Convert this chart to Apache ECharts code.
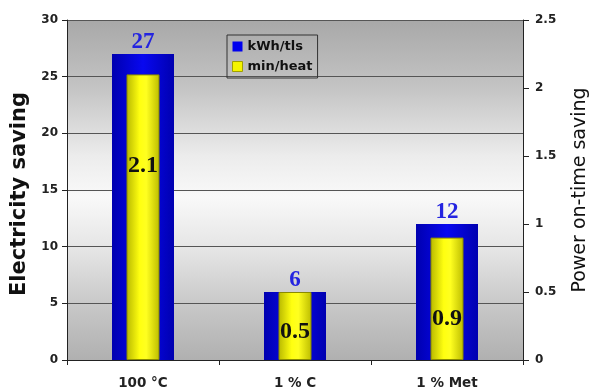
<!DOCTYPE html>
<html>
<head>
<meta charset="utf-8">
<script src="https://cdn.jsdelivr.net/npm/echarts@6/dist/echarts.min.js"></script>
<style>
  html, body { margin: 0; padding: 0; background: #ffffff; }
  #chart { width: 592px; height: 392px; }
</style>
</head>
<body>
<div id="chart"></div>
<script>
// Categories and values
const categories = ['100 °C', '1 % C', '1 % Met'];
const kwhPerTls = [27, 6, 12];        // Electricity saving (left axis)
const minPerHeat = [2.1, 0.5, 0.9];   // Power on-time saving (right axis)
const leftTicks = { min: 0, max: 30, interval: 5 };
const rightTicks = { min: 0, max: 2.5, interval: 0.5 };

// Vertical placement of the labels inside the yellow bars
const innerLabelPos = ['32%', '58%', '66%'];

const chart = echarts.init(document.getElementById('chart'), null, { renderer: 'canvas' });

const fontSans = 'DejaVu Sans, Verdana, sans-serif';
const fontSerif = 'Liberation Serif, Times New Roman, serif';

const option = {
  animation: false,
  backgroundColor: '#ffffff',
  grid: {
    left: 67, right: 69, top: 20, bottom: 32,
    outerBoundsMode: 'none',
    containLabel: false,
    show: true,
    borderWidth: 0,
    backgroundColor: {
      type: 'linear', x: 0, y: 0, x2: 0, y2: 1,
      colorStops: [
        { offset: 0, color: '#a8a8a8' },
        { offset: 0.2, color: '#c4c4c4' },
        { offset: 0.4, color: '#ececec' },
        { offset: 0.52, color: '#f9f9f9' },
        { offset: 0.68, color: '#e4e4e4' },
        { offset: 0.85, color: '#c6c6c6' },
        { offset: 1, color: '#b0b0b0' }
      ]
    }
  },
  legend: {
    left: 227, top: 35,
    orient: 'vertical',
    padding: [5, 5, 5, 5],
    itemGap: 7,
    itemWidth: 10, itemHeight: 10,
    borderColor: '#333333', borderWidth: 1,
    icon: 'rect',
    textStyle: { fontFamily: fontSans, fontWeight: 'bold', fontSize: 13, color: '#111111' },
    data: [
      { name: 'kWh/tls', itemStyle: { color: '#0000ee' } },
      { name: 'min/heat', itemStyle: { color: '#f4f400', borderColor: '#a0a000', borderWidth: 1 } }
    ]
  },
  xAxis: [
    {
      type: 'category', data: categories, gridIndex: 0,
      axisLine: { show: true, lineStyle: { color: '#222222', width: 1 } },
      axisTick: { show: true, length: 5, lineStyle: { color: '#222222' } },
      axisLabel: { fontFamily: fontSans, fontWeight: 'bold', fontSize: 13.5, color: '#222222', margin: 16 }
    },
    {
      type: 'category', data: categories, gridIndex: 0, show: false
    }
  ],
  yAxis: [
    {
      type: 'value', min: leftTicks.min, max: leftTicks.max, interval: leftTicks.interval,
      name: 'Electricity saving', nameLocation: 'middle', nameGap: 28,
      nameTextStyle: { fontFamily: fontSans, fontWeight: 'bold', fontSize: 21, color: '#111111', padding: [0, 8, 0, 0] },
      axisLine: { show: true, lineStyle: { color: '#222222', width: 1 } },
      axisTick: { show: true, length: 5, lineStyle: { color: '#222222' } },
      axisLabel: { fontFamily: fontSans, fontWeight: 'bold', fontSize: 12, color: '#222222', margin: 9 },
      splitLine: { show: true, lineStyle: { color: '#555555', width: 1 } }
    },
    {
      type: 'value', min: rightTicks.min, max: rightTicks.max, interval: rightTicks.interval,
      position: 'right',
      name: 'Power on-time saving', nameLocation: 'middle', nameGap: 48,
      nameTextStyle: { fontFamily: fontSans, fontSize: 19, color: '#111111' },
      axisLine: { show: true, lineStyle: { color: '#222222', width: 1 } },
      axisTick: { show: true, length: 6, lineStyle: { color: '#222222' } },
      axisLabel: { fontFamily: fontSans, fontWeight: 'bold', fontSize: 12, color: '#222222', margin: 12 },
      splitLine: { show: false }
    }
  ],
  series: [
    {
      name: 'kWh/tls', type: 'bar', xAxisIndex: 0, yAxisIndex: 0,
      barWidth: 62,
      data: kwhPerTls,
      itemStyle: {
        color: {
          type: 'linear', x: 0, y: 0, x2: 1, y2: 0,
          colorStops: [
            { offset: 0, color: '#0000b0' },
            { offset: 0.5, color: '#0808f0' },
            { offset: 1, color: '#0000b0' }
          ]
        }
      },
      label: {
        show: true, position: 'top', distance: 0,
        fontFamily: fontSerif, fontWeight: 'bold', fontSize: 23, color: '#2424e0'
      },
      z: 2
    },
    {
      name: 'min/heat', type: 'bar', xAxisIndex: 1, yAxisIndex: 1,
      barWidth: 33,
      data: minPerHeat.map((v, i) => ({
        value: v,
        label: { position: ['50%', innerLabelPos[i]] }
      })),
      itemStyle: {
        borderColor: '#8a8a00', borderWidth: 1,
        color: {
          type: 'linear', x: 0, y: 0, x2: 1, y2: 0,
          colorStops: [
            { offset: 0, color: '#b8b800' },
            { offset: 0.4, color: '#ffff10' },
            { offset: 0.6, color: '#ffff20' },
            { offset: 1, color: '#bcbc00' }
          ]
        }
      },
      label: {
        show: true, align: 'center', verticalAlign: 'middle',
        fontFamily: fontSerif, fontWeight: 'bold', fontSize: 24, color: '#111111'
      },
      z: 3
    }
  ]
};

chart.setOption(option);
</script>
</body>
</html>
